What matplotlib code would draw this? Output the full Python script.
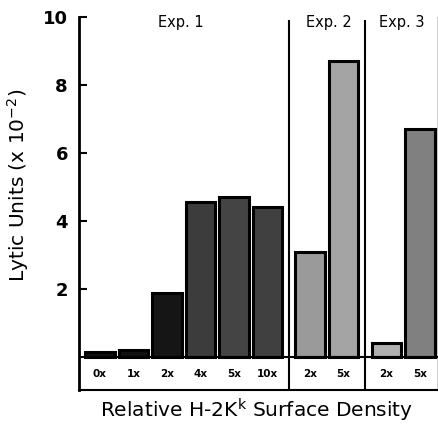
import matplotlib
matplotlib.use("Agg")
import matplotlib.pyplot as plt

# Data
groups = ["Exp. 1", "Exp. 2", "Exp. 3"]
categories = [["0x", "1x", "2x", "4x", "5x", "10x"], ["2x", "5x"], ["2x", "5x"]]
values = [[0.15, 0.22, 1.88, 4.57, 4.70, 4.40], [3.08, 8.70], [0.42, 6.70]]
yticks = [2, 4, 6, 8, 10]

facecolors = [["#111111", "#111111", "#151515", "#3c3c3c", "#444444", "#404040"],
              ["#9a9a9a", "#a4a4a4"], ["#b0b0b0", "#808080"]]

W, H = 439, 425
fig = plt.figure(figsize=(W / 100, H / 100), dpi=100)
ax = fig.add_axes([79 / W, (H - 390) / H, (438 - 79) / W, (390 - 17) / H])

gap = 1.28
positions = []
x = 0.0
for gi, cats in enumerate(categories):
    pos = []
    for ci in range(len(cats)):
        pos.append(x)
        x += 1.0
    x += gap - 1.0
    positions.append(pos)

for gi in range(len(groups)):
    ax.bar(positions[gi], values[gi], width=0.88, color=facecolors[gi],
           edgecolor="black", linewidth=2.2, zorder=3)
    for p, c in zip(positions[gi], categories[gi]):
        ax.text(p, -0.5, c, ha="center", va="center", fontsize=7.5, fontweight="bold")

# dividers
dividers = [(positions[0][-1] + positions[1][0]) / 2, (positions[1][-1] + positions[2][0]) / 2]
for d in dividers:
    ax.plot([d, d], [-0.97, 9.9], color="black", lw=1.5, zorder=4, solid_capstyle="butt")

# baseline of label box
ax.axhline(0, color="black", lw=1.5, zorder=4)

# group titles
title_x = [2.41, (positions[1][0] + positions[1][-1]) / 2 + 0.05,
           (positions[2][0] + positions[2][-1]) / 2 - 0.05]
for t, tx in zip(groups, title_x):
    ax.text(tx, 9.85, t, ha="center", va="center", fontsize=10.5)

ax.set_xlim(-0.625, 10.1)
ax.set_ylim(-0.97, 10)
ax.set_yticks(yticks)
ax.set_yticklabels([str(v) for v in yticks], fontsize=13, fontweight="bold")
ax.tick_params(axis="y", direction="in", length=6, width=1.5, pad=8)
ax.set_xticks([])
ax.spines["top"].set_visible(False)
ax.spines["left"].set_linewidth(2)
ax.spines["bottom"].set_linewidth(1.5)
ax.spines["right"].set_linewidth(1.0)
ax.set_ylabel("Lytic Units (x 10$^{\\mathrm{-2}}$)", fontsize=14.5, labelpad=4)
ax.yaxis.set_label_coords(-0.135, 0.55)

fig.text(257 / W, (H - 410) / H, "Relative H-2K$^{\\mathrm{k}}$ Surface Density",
         ha="center", va="center", fontsize=14.5)

fig.savefig("out.png", dpi=100)
